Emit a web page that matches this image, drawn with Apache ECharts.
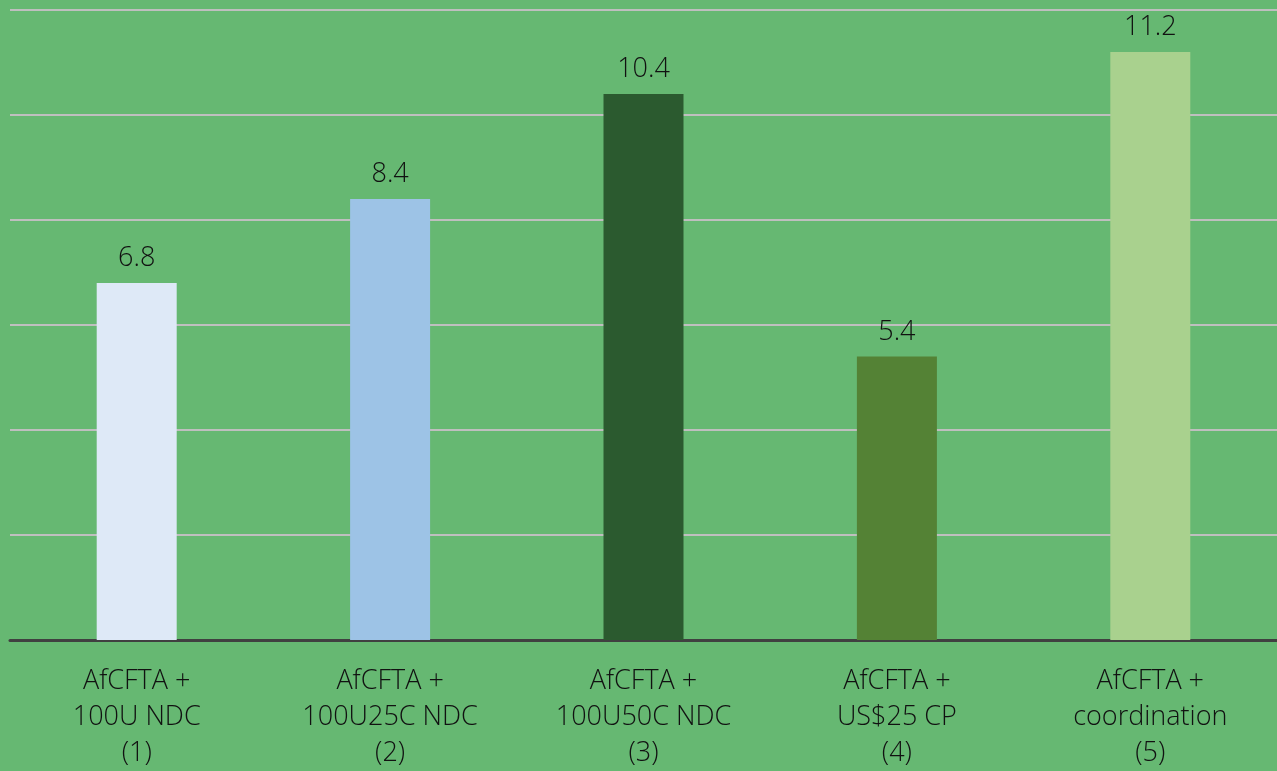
<!DOCTYPE html>
<html>
<head>
<meta charset="utf-8">
<script src="https://cdn.jsdelivr.net/npm/echarts@6/dist/echarts.min.js"></script>
<style>
  html, body { margin: 0; padding: 0; background: #66B872; }
  #chart { width: 1277px; height: 771px; }
</style>
</head>
<body>
<div id="chart"></div>
<script>
// Scenario names shown under each bar
const categories = [
  'AfCFTA +\n100U NDC\n(1)',
  'AfCFTA +\n100U25C NDC\n(2)',
  'AfCFTA +\n100U50C NDC\n(3)',
  'AfCFTA +\nUS$25 CP\n(4)',
  'AfCFTA +\ncoordination\n(5)'
];
// Value per scenario
const values = [6.8, 8.4, 10.4, 5.4, 11.2];
// Fill colour per scenario
const barColors = ['#DEE9F7', '#9DC3E6', '#2B5A2F', '#548235', '#A9D18E'];

const fontFamily = '"Open Sans", "Noto Sans", sans-serif';

const chart = echarts.init(document.getElementById('chart'), null, { renderer: 'canvas' });
chart.setOption({
  backgroundColor: '#66B872',
  animation: false,
  grid: { left: 10, right: 0, top: 10, bottom: 131, containLabel: false },
  xAxis: {
    type: 'category',
    data: categories,
    axisLine: { show: true, lineStyle: { color: '#404040', width: 3 } },
    axisTick: { show: false },
    axisLabel: {
      color: '#111111',
      fontSize: 27,
      fontWeight: 300,
      fontFamily: fontFamily,
      lineHeight: 36,
      margin: 23,
      interval: 0
    }
  },
  yAxis: {
    type: 'value',
    min: 0,
    max: 12,
    interval: 2,
    axisLine: { show: false },
    axisTick: { show: false },
    axisLabel: { show: false },
    splitLine: { show: true, lineStyle: { color: '#BFBFBF', width: 2 } }
  },
  series: [{
    type: 'bar',
    barWidth: 80,
    data: values.map((v, i) => ({ value: v, itemStyle: { color: barColors[i] } })),
    label: {
      show: true,
      position: 'top',
      distance: 11,
      color: '#111111',
      fontSize: 27,
      fontWeight: 300,
      fontFamily: fontFamily,
      formatter: p => p.value.toFixed(1)
    }
  }]
});
</script>
</body>
</html>
